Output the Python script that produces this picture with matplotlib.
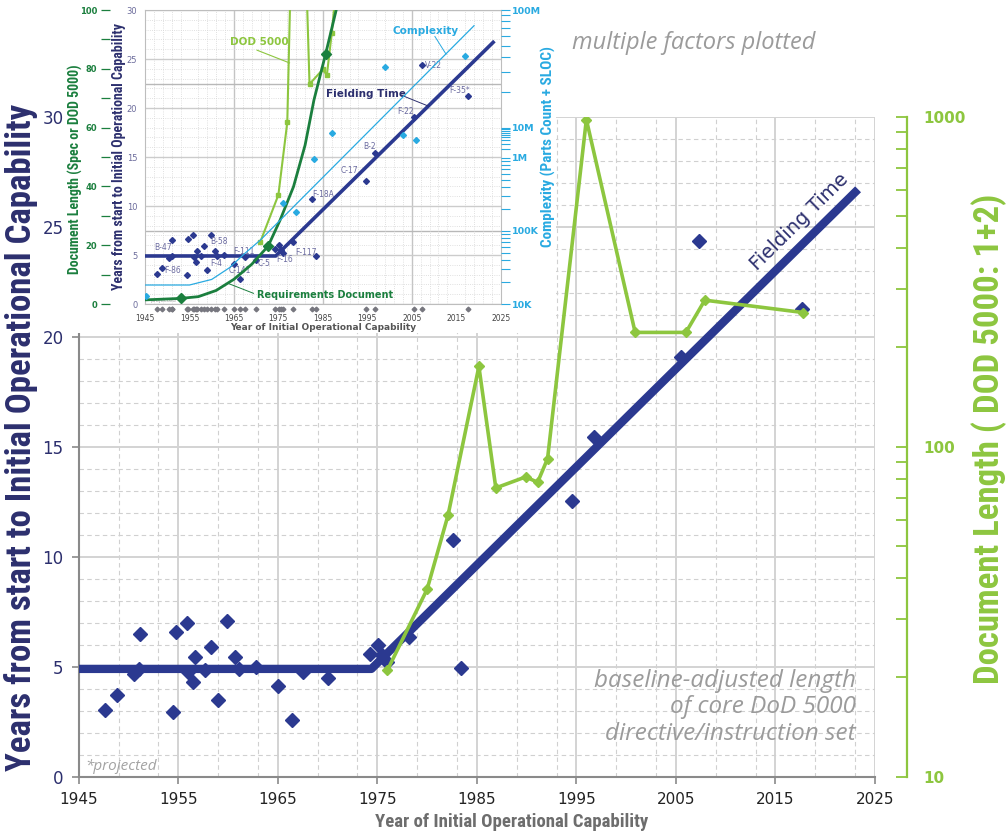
import numpy as np
import matplotlib
matplotlib.use("Agg")
import matplotlib.pyplot as plt
from matplotlib import font_manager
from matplotlib.ticker import NullFormatter

# ---- data ----
# programs: year of IOC vs years from start to IOC
IOC_YEAR = [1947.6, 1948.8, 1950.5, 1951.1, 1951.0, 1954.5, 1954.75, 1955.9, 1956.0,
            1956.5, 1956.65, 1957.7, 1958.3, 1959.0, 1959.9, 1960.7, 1961.1, 1962.8,
            1965.05, 1966.45, 1967.5, 1970.0, 1974.3, 1975.1, 1975.5, 1976.0, 1978.2,
            1982.6, 1983.4, 1994.6, 1996.8, 2005.5, 2007.3, 2017.7]
IOC_SPAN = [3.03, 3.71, 4.65, 6.49, 4.88, 2.95, 6.59, 7.0, 4.77,
            4.32, 5.45, 4.85, 5.88, 3.49, 7.09, 5.43, 4.88, 5.0,
            4.12, 2.58, 4.77, 4.47, 5.58, 5.99, 5.55, 5.2, 6.36,
            10.76, 4.93, 12.55, 15.45, 19.09, 24.36, 21.25]

# fielding time trend
FIELD_YEAR = [1945, 1974.4, 2023.3]
FIELD_TIME = [4.9, 4.9, 26.7]

# DoD 5000 document length (main chart, log axis)
DOD_YEAR = [1976.0, 1980.0, 1982.1, 1985.2, 1986.9, 1989.9, 1991.1, 1992.1,
            1996.0, 2000.9, 2006.0, 2007.9, 2017.8]
DOD_PAGES = [21, 37, 62, 175, 75, 81, 78, 92, 980, 222, 222, 278, 255]

# inset: DoD 5000 and requirements document length (0-100 axis)
IN_DOD_YEAR = [1970.9, 1975.0, 1977.0, 1979.3, 1982.0, 1985.0, 1985.9, 1987.0, 1989.0]
IN_DOD_LEN = [21.0, 37.1, 61.8, 210, 74.8, 79.8, 77.8, 92.1, 124]
REQ_YEAR = [1945, 1953, 1957, 1961, 1965, 1969, 1972.7, 1975.4, 1978.4, 1981,
            1983, 1985.6, 1988, 1989]
REQ_LEN = [1.4, 1.9, 2.5, 4.6, 8.4, 13.5, 19.7, 28.6, 39.9, 54, 69.4, 84.9, 100, 108]
REQ_MARKED = [1, 6, 11]

# inset: complexity (parts count + SLOC)
CPLX_YEAR = [1945.2, 1976.0, 1979.0, 1983.0, 1987.0, 1999.0, 2003.0, 2006.0, 2017.0]
CPLX_COUNT = [13e3, 245e3, 183e3, 960e3, 6.7e6, 33e6, 5.7e6, 3.9e6, 41e6]
CTREND_YEAR = [1945, 1955, 1960, 1964, 1967.3, 1971, 2019]
CTREND_COUNT = [18.2e3, 18.2e3, 21.7e3, 31.4e3, 48.4e3, 75.7e3, 73.6e6]

# inset program labels
PROGRAMS = ["B-47", "F-86", "B-58", "F-4", "F-111", "C-141", "C-5", "F-16",
            "F-117", "F-18A", "C-17", "B-2", "F-22", "V-22", "F-35*"]
PROG_X = [1949.1, 1951.2, 1961.7, 1961.1, 1967.3, 1966.4, 1971.8, 1976.5,
          1981.2, 1985.1, 1990.9, 1995.5, 2003.5, 2009.9, 2015.8]
PROG_Y = [5.75, 3.4, 6.36, 4.15, 5.34, 3.4, 4.15, 4.49,
          5.27, 11.2, 13.6, 16.1, 19.6, 24.3, 21.8]

# complexity axis in the inset is drawn with uneven decades
CPLX_DECADES = [4, 5, 6, 7, 8]
CPLX_POS = [0, 7.45, 14.9, 17.96, 30]
CPLX_LABELS = ["10K", "100K", "1M", "10M", "100M"]

NAVY = "#2b3990"
NAVY_TXT = "#2c2f6e"
LGREEN = "#8dc63f"
DGREEN = "#1b7f3e"
CYAN = "#29aae1"
GRAY_TXT = "#9b9b9b"


def pick_font(cands, style="normal"):
    avail = {(f.name, f.style) for f in font_manager.fontManager.ttflist}
    for c in cands:
        if (c, style) in avail:
            return c
    return "DejaVu Sans"


NARROW = pick_font(["Liberation Sans Narrow", "Roboto Condensed", "DejaVu Sans"])
ITALIC = pick_font(["Open Sans", "Noto Sans", "Lato", "DejaVu Sans"], "italic")

W, H = 1006, 835
fig = plt.figure(figsize=(W / 100, H / 100), dpi=100)


def box(x0, y0, x1, y1):
    # pixel box (top-left origin) -> figure fraction rect
    return [x0 / W, 1 - y1 / H, (x1 - x0) / W, (y1 - y0) / H]


# ---------------- main chart ----------------
ax = fig.add_axes(box(78.8, 116.7, 875, 776.7))
ax.set_zorder(1)
ax.set_xlim(1945, 2025)
ax.set_ylim(0, 30)
ax.set_xticks(np.arange(1945, 2026, 10))
ax.set_xticks([y + d for y in range(1945, 2025, 10) for d in (4, 8)], minor=True)
ax.set_yticks(range(0, 31, 5))
ax.set_yticks(range(0, 31), minor=True)
ax.grid(which="major", color="#d3d3d3", lw=1.4)
ax.grid(which="minor", color="#d0d0d0", lw=0.8, ls=(0, (4, 3)))
ax.set_axisbelow(True)
ax.tick_params(which="minor", length=0)
ax.tick_params(which="major", length=5, width=1.2, color="#8a8a8a")
ax.tick_params(axis="x", labelsize=11, labelcolor="#222222", pad=6)
ax.tick_params(axis="y", labelsize=12, labelcolor=NAVY_TXT, pad=6)
for s in ("top", "right"):
    ax.spines[s].set_visible(False)
for s in ("left", "bottom"):
    ax.spines[s].set_color("#8a8a8a")
    ax.spines[s].set_linewidth(1.5)

ax.plot(FIELD_YEAR, FIELD_TIME, color=NAVY, lw=6, solid_capstyle="butt", zorder=3)
ax.plot(IOC_YEAR, IOC_SPAN, ls="none", marker="D", ms=7, color=NAVY, zorder=4)

p1 = ax.transData.transform((FIELD_YEAR[1], FIELD_TIME[1]))
p2 = ax.transData.transform((FIELD_YEAR[2], FIELD_TIME[2]))
ang = np.degrees(np.arctan2(p2[1] - p1[1], p2[0] - p1[0]))
ax.text(2017.4, 25.2, "Fielding Time", rotation=ang, rotation_mode="anchor",
        ha="center", va="center", fontsize=14, color=NAVY_TXT, zorder=5)

# right log axis for DoD 5000 length
ax2 = ax.twinx()
ax2.set_zorder(2)
ax2.patch.set_visible(False)
ax2.set_yscale("log")
ax2.plot(DOD_YEAR, DOD_PAGES, color=LGREEN, lw=2.6, marker="D", ms=5.5)
ax2.set_ylim(10, 1000)
for s in ("top", "left", "bottom"):
    ax2.spines[s].set_visible(False)
ax2.spines["right"].set_position(("outward", 23))
ax2.spines["right"].set_color(LGREEN)
ax2.spines["right"].set_linewidth(1.6)
ax2.set_yticks([10, 100, 1000])
ax2.set_yticklabels(["10", "100", "1000"], fontweight="bold")
ax2.yaxis.set_minor_formatter(NullFormatter())
ax2.tick_params(axis="y", which="both", direction="in", length=8, width=1.3,
                color=LGREEN, labelsize=11, labelcolor=LGREEN, pad=12)

# ---------------- cover behind the inset ----------------
cov = fig.add_axes(box(72, 0, 556, 333))
cov.set_zorder(3)
cov.set_facecolor("white")
cov.set_xticks([])
cov.set_yticks([])
for s in cov.spines.values():
    s.set_visible(False)

# ---------------- inset chart ----------------
ins = fig.add_axes(box(145, 10, 500.7, 304))
ins.set_zorder(4)
ins.set_xlim(1945, 2025)
ins.set_ylim(0, 30)
ins.set_xticks(np.arange(1945, 2026, 10))
ins.set_xticks(np.arange(1947, 2025, 2), minor=True)
ins.set_yticks(range(0, 31, 5))
ins.set_yticks(range(0, 31), minor=True)
ins.xaxis.grid(True, which="minor", color="#d6d6d6", lw=0.6, ls=":")
ins.yaxis.grid(True, which="minor", color="#d6d6d6", lw=0.6, ls=":")
ins.yaxis.grid(True, which="major", color="#cccccc", lw=1.0)
for yr in (1965, 1985, 2005):
    ins.axvline(yr, color="#c4c4c4", lw=1.0, zorder=0.5)
for lev in (7.45, 22.4):
    ins.axhline(lev, color="#b8b8b8", lw=1.0, zorder=0.5)
ins.set_axisbelow(True)
ins.tick_params(which="both", length=0)
ins.tick_params(axis="y", labelsize=6, labelcolor="#6b6b9b", pad=5.5)
ins.tick_params(axis="x", labelsize=5.5, labelcolor="#444444", pad=7)
for s in ins.spines.values():
    s.set_color("#bdbdbd")
    s.set_linewidth(0.8)

ins.plot(FIELD_YEAR, FIELD_TIME, color=NAVY, lw=2.6, zorder=3)
ins.plot(IOC_YEAR, IOC_SPAN, ls="none", marker="D", ms=3, color=NAVY, zorder=4)
ins.plot(IOC_YEAR, [-0.016] * len(IOC_YEAR), transform=ins.get_xaxis_transform(),
         ls="none", marker="D", ms=2.4, color="#77777f", clip_on=False)
for name, x, y in zip(PROGRAMS, PROG_X, PROG_Y):
    ins.text(x, y, name, fontsize=5.5, color="#6b6ba0", ha="center", va="center", zorder=5)
ins.text(1946.2, 0.35, "projected", fontsize=4, color="#aaaaaa", va="center")

# callouts
ins.text(1994.7, 21.4, "Fielding Time", fontsize=7.5, fontweight="bold",
         color=NAVY_TXT, ha="center", va="center", zorder=6)
ins.plot([2002.7, 2008.7], [21.3, 20.2], color=NAVY_TXT, lw=0.7, zorder=6)
ins.text(2008.2, 27.9, "Complexity", fontsize=7.5, fontweight="bold",
         color=CYAN, ha="center", va="center", zorder=6)
ins.plot([2010.2, 2012.7], [27.3, 25.5], color=CYAN, lw=0.7, zorder=6)
ins.text(1970.7, 26.7, "DOD 5000", fontsize=7.5, fontweight="bold",
         color=LGREEN, ha="center", va="center", zorder=6)
ins.plot([1970.2, 1977.5], [25.9, 24.6], color=LGREEN, lw=0.8, zorder=6)
ins.text(1970.2, 0.95, "Requirements Document", fontsize=7, fontweight="bold",
         color=DGREEN, ha="left", va="center", zorder=6)
ins.plot([1969.4, 1963.7], [1.09, 2.1], color=DGREEN, lw=0.7, zorder=6)

# document length axis (0-100) on the left
gax = ins.twinx()
gax.set_zorder(5)
gax.patch.set_visible(False)
gax.set_ylim(0, 100)
gax.yaxis.set_ticks_position("left")
gax.spines["left"].set_position(("outward", 25.2))
for s in gax.spines.values():
    s.set_visible(False)
gax.set_yticks(range(0, 101, 20))
gax.set_yticks(range(10, 100, 20), minor=True)
gax.set_yticklabels([str(v) for v in range(0, 101, 20)], fontweight="bold")
gax.tick_params(axis="y", which="both", direction="out", length=6.5, width=0.9,
                color=DGREEN, labelsize=6, labelcolor=DGREEN, pad=2.5)
gax.plot(IN_DOD_YEAR, IN_DOD_LEN, color=LGREEN, lw=1.5, marker="s", ms=3)
gax.plot(REQ_YEAR, REQ_LEN, color=DGREEN, lw=2.0, marker="D", ms=5.5,
         markevery=REQ_MARKED)
gax.set_ylim(0, 100)


# complexity axis on the right
def cplx_fwd(v):
    return np.interp(np.log10(np.clip(v, 1e-12, None)), CPLX_DECADES, CPLX_POS)


def cplx_inv(p):
    return 10 ** np.interp(p, CPLX_POS, CPLX_DECADES)


cax = ins.twinx()
cax.set_zorder(6)
cax.patch.set_visible(False)
cax.set_yscale("function", functions=(cplx_fwd, cplx_inv))
cax.plot(CTREND_YEAR, CTREND_COUNT, color=CYAN, lw=0.9)
cax.plot(CPLX_YEAR, CPLX_COUNT, ls="none", marker="D", ms=3, color=CYAN)
cax.set_ylim(1e4, 1e8)
for s in cax.spines.values():
    s.set_visible(False)
cax.set_yticks([10.0 ** d for d in CPLX_DECADES])
cax.set_yticklabels(CPLX_LABELS, fontweight="bold")
cax.set_yticks([m * 10.0 ** d for d in CPLX_DECADES[:-1] for m in range(2, 10)], minor=True)
cax.yaxis.set_minor_formatter(NullFormatter())
cax.tick_params(axis="y", which="both", direction="out", length=6.5, width=0.8,
                color=CYAN, labelsize=6.8, labelcolor=CYAN, pad=1.5)

# ---------------- labels and notes ----------------
fig.text(21 / W, 1 - 437 / H, "Years from start to Initial Operational Capability",
         rotation=90, ha="center", va="center", fontsize=25, fontweight="bold",
         color=NAVY_TXT, family=NARROW, zorder=10)
fig.text(989 / W, 1 - 439 / H, "Document Length ( DOD 5000: 1+2)",
         rotation=90, ha="center", va="center", fontsize=25, fontweight="bold",
         color=LGREEN, family=NARROW, zorder=10)
fig.text(511.5 / W, 1 - 821.7 / H, "Year of Initial Operational Capability",
         ha="center", va="center", fontsize=13.5, fontweight="bold",
         color="#6d6d6d", family=NARROW, zorder=10)

fig.text(75 / W, 1 - 169.5 / H, "Document Length (Spec or DOD 5000)",
         rotation=90, ha="center", va="center", fontsize=10, fontweight="bold",
         color=DGREEN, family=NARROW, zorder=10)
fig.text(119.3 / W, 1 - 157 / H, "Years from start to Initial Operational Capability",
         rotation=90, ha="center", va="center", fontsize=10, fontweight="bold",
         color=NAVY_TXT, family=NARROW, zorder=10)
fig.text(548 / W, 1 - 147 / H, "Complexity (Parts Count + SLOC)",
         rotation=90, ha="center", va="center", fontsize=11, fontweight="bold",
         color=CYAN, family=NARROW, zorder=10)
fig.text(322.9 / W, 1 - 327 / H, "Year of Initial Operational Capability",
         ha="center", va="center", fontsize=6.5, fontweight="bold",
         color="#555555", zorder=10)

fig.text(571.7 / W, 1 - 43.3 / H, "multiple factors plotted", ha="left", va="center",
         fontsize=17, style="italic", color=GRAY_TXT, family=ITALIC, zorder=10)
fig.text(856 / W, 1 - 707.3 / H,
         "baseline-adjusted length\nof core DoD 5000\ndirective/instruction set",
         ha="right", va="center", fontsize=17.5, style="italic", linespacing=1.15,
         color=GRAY_TXT, family=ITALIC, zorder=10)
fig.text(85 / W, 1 - 767 / H, "*projected", ha="left", va="center", fontsize=11,
         style="italic", color="#a3a3a3", family=ITALIC, zorder=10)

fig.savefig("out.png", dpi=100)
